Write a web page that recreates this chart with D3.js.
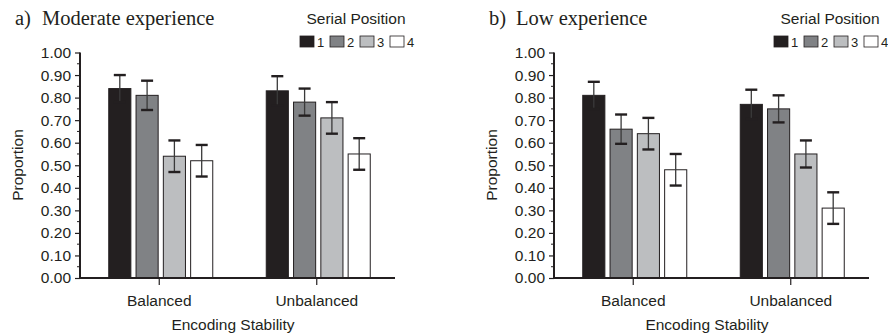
<!DOCTYPE html>
<meta charset="utf-8">
<style>
body { margin: 0; background: #fff; }
text { font-family: "Liberation Sans", Arial, sans-serif; fill: #231f20; }
.title { font-family: "Liberation Serif", "Times New Roman", serif; font-size: 20.5px; }
</style>
<svg width="888" height="336"></svg>
<script src="https://d3js.org/d3.v7.min.js"></script>
<script>

var groups = ["Balanced", "Unbalanced"];
var positions = ["1", "2", "3", "4"];
var yTicks = [0, 0.1, 0.2, 0.3, 0.4, 0.5, 0.6, 0.7, 0.8, 0.9, 1.0];

// proportions, one array per serial position: [Balanced, Unbalanced]
var moderateMeans = [[0.84, 0.83], [0.81, 0.78], [0.54, 0.71], [0.52, 0.55]];
var moderateErr   = [[0.06, 0.065], [0.065, 0.06], [0.07, 0.07], [0.07, 0.07]];
var lowMeans = [[0.81, 0.77], [0.66, 0.75], [0.64, 0.55], [0.48, 0.31]];
var lowErr   = [[0.06, 0.065], [0.065, 0.06], [0.07, 0.06], [0.07, 0.07]];

var fills = ["#231f20", "#808285", "#bcbec0", "#ffffff"];
var fs = "15.5px";

var svg = d3.select("svg");

function panel(ox, label, title, means, errs) {
  var g = svg.append("g").attr("transform", "translate(" + ox + ",0)");
  var x0 = 80, x1 = 395, yTop = 52.5, yBot = 278;

  var y = d3.scaleLinear().domain([0, 1]).range([yBot, yTop]);
  var x = d3.scalePoint().domain(groups).range([x0, x1]).padding(0.5);
  var xs = d3.scaleBand().domain(positions).range([-50, 54]).paddingInner(0.19);

  g.append("text").attr("class", "title").attr("x", 15).attr("y", 25).text(label);
  g.append("text").attr("class", "title").attr("x", 42).attr("y", 25).text(title);

  // legend
  g.append("text").attr("x", 356).attr("y", 24)
    .attr("text-anchor", "middle").style("font-size", fs)
    .text("Serial Position");
  var leg = g.append("g").selectAll("g").data(positions).enter().append("g")
    .attr("transform", function(d, i) { return "translate(" + (300 + i * 30) + ",36)"; });
  leg.append("rect").attr("width", 14).attr("height", 11)
    .attr("fill", function(d, i) { return fills[i]; })
    .attr("stroke", "#231f20").attr("stroke-width", 0.8);
  leg.append("text").attr("x", 17).attr("y", 10.5)
    .style("font-size", "13px").text(function(d) { return d; });

  // bars
  var data = [];
  positions.forEach(function(p, i) {
    groups.forEach(function(gr, j) {
      data.push({ pos: p, i: i, group: gr, v: means[i][j], e: errs[i][j] });
    });
  });

  g.append("g").selectAll("rect").data(data).enter().append("rect")
    .attr("x", function(d) { return x(d.group) + xs(d.pos); })
    .attr("width", xs.bandwidth())
    .attr("y", function(d) { return y(d.v); })
    .attr("height", function(d) { return yBot - y(d.v); })
    .attr("fill", function(d) { return fills[d.i]; })
    .attr("stroke", "#231f20").attr("stroke-width", 1);

  var eb = g.append("g").selectAll("g").data(data).enter().append("g")
    .attr("transform", function(d) { return "translate(" + (x(d.group) + xs(d.pos) + xs.bandwidth() / 2) + ",0)"; });
  eb.append("line")
    .attr("y1", function(d) { return y(d.v + d.e); })
    .attr("y2", function(d) { return y(d.v - d.e); })
    .attr("stroke", "#3a3a3a").attr("stroke-width", 1.3);
  eb.selectAll(".cap").data(function(d) { return [d.v + d.e, d.v - d.e]; })
    .enter().append("line").attr("class", "cap")
    .attr("x1", -6).attr("x2", 6)
    .attr("y1", function(v) { return y(v); }).attr("y2", function(v) { return y(v); })
    .attr("stroke", "#231f20").attr("stroke-width", 2.4);

  // y axis
  var yAxis = d3.axisLeft(y).tickValues(yTicks).tickFormat(d3.format(".2f"))
    .tickSize(5).tickPadding(4);
  var ya = g.append("g").attr("transform", "translate(" + x0 + ",0)").call(yAxis);
  ya.select(".domain").remove();
  ya.selectAll("line").attr("stroke", "#231f20").attr("stroke-width", 1.2);
  ya.selectAll("text").style("font-size", fs).attr("fill", "#231f20")
    .style("font-family", "'Liberation Sans', Arial, sans-serif");
  var minor = d3.range(0.05, 1, 0.1);
  g.append("g").selectAll("line").data(minor).enter().append("line")
    .attr("x1", x0 - 3).attr("x2", x0)
    .attr("y1", function(d) { return y(d); }).attr("y2", function(d) { return y(d); })
    .attr("stroke", "#231f20").attr("stroke-width", 1);
  g.append("line").attr("x1", x0).attr("x2", x0).attr("y1", yTop).attr("y2", yBot + 1)
    .attr("stroke", "#231f20").attr("stroke-width", 2);

  // x axis
  var xAxis = d3.axisBottom(x).tickSize(7).tickPadding(10);
  var xa = g.append("g").attr("transform", "translate(0," + yBot + ")").call(xAxis);
  xa.select(".domain").remove();
  xa.selectAll("line").attr("stroke", "#231f20").attr("stroke-width", 1.2);
  xa.selectAll("text").style("font-size", fs).attr("fill", "#231f20")
    .style("font-family", "'Liberation Sans', Arial, sans-serif");
  g.append("line").attr("x1", x0 - 1).attr("x2", x1).attr("y1", yBot).attr("y2", yBot)
    .attr("stroke", "#231f20").attr("stroke-width", 2);

  g.append("text").attr("x", 233).attr("y", 330).attr("text-anchor", "middle")
    .style("font-size", fs).text("Encoding Stability");
  g.append("text").attr("transform", "translate(23,165) rotate(-90)")
    .attr("text-anchor", "middle").style("font-size", fs).text("Proportion");
}

panel(0, "a)", "Moderate experience", moderateMeans, moderateErr);
panel(474, "b)", "Low experience", lowMeans, lowErr);

</script>
